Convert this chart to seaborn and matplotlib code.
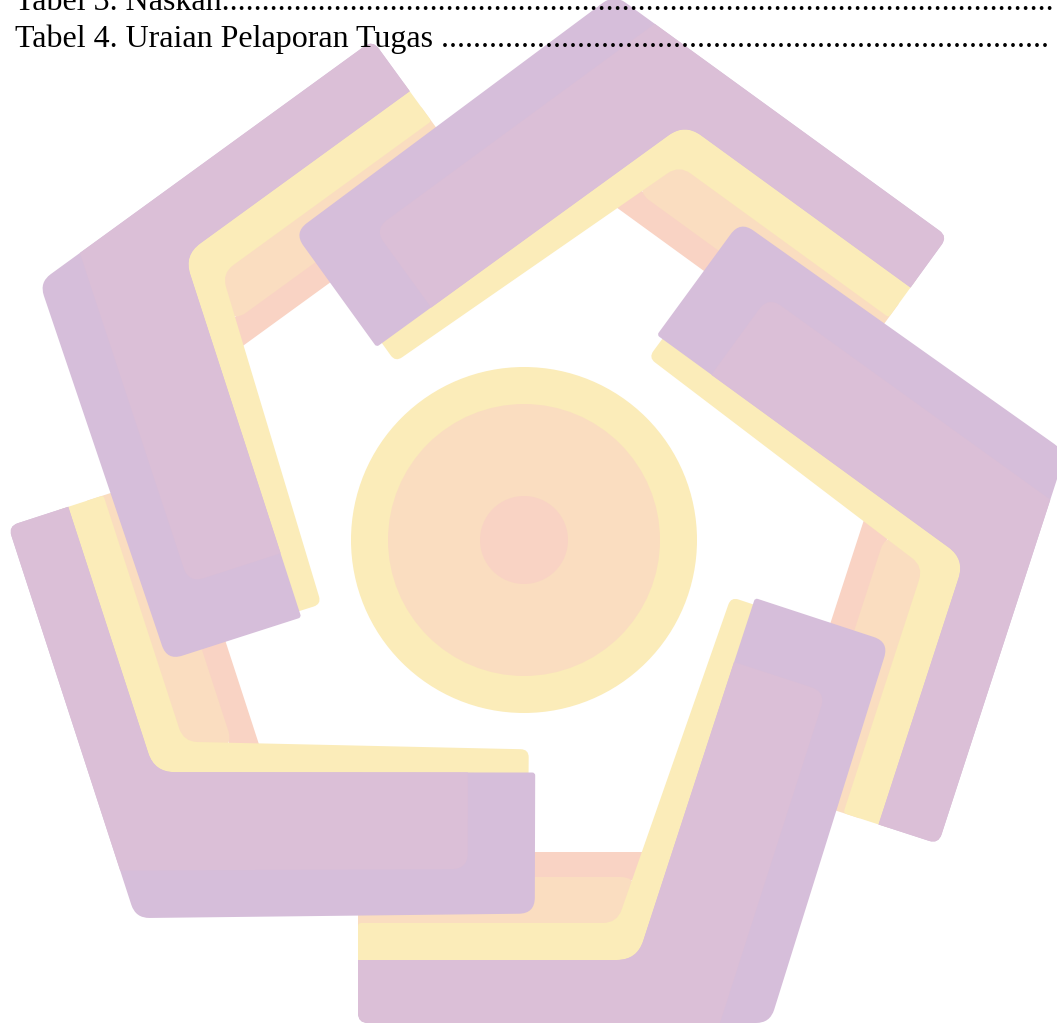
import numpy as np
import matplotlib
matplotlib.use("Agg")
import matplotlib.pyplot as plt
from matplotlib.path import Path
from matplotlib.patches import PathPatch, Circle
import seaborn as sns

# the two lines of the list of tables at the top of the page
lines = ["Tabel 3. Naskah", "Tabel 4. Uraian Pelaporan Tugas "]
line_base = [10, 47]
text_x = 15
text_size = 23

# watermark colours
layer_names = ["salmon", "peach", "yellow", "lilac", "mauve"]
layer_hex = ["#F9D3C4", "#FADDC0", "#FBECB9", "#D6BEDA", "#DBBFD7"]

# one arm of the logo (the bottom one), pixel coords, y pointing down
salmon_arm = [(358, 852), (645, 852), (652, 880), (358, 880)]
salmon_r = [0, 0, 0, 0]
peach_arm = [(358, 877), (633, 877), (642, 900), (622, 940), (358, 940)]
peach_r = [0, 12, 0, 0, 0]
yellow_arm = [(358, 923), (617, 923), (731, 597), (800, 620), (700, 970), (358, 970)]
yellow_r = [3, 14, 8, 0, 0, 0]
lilac_arm = [(358, 960), (637, 960), (755, 598), (889, 642), (770, 1023), (358, 1023)]
lilac_r = [0, 20, 3, 16, 14, 10]
mauve_arm = [(358, 960), (637, 960), (734, 662), (826, 692), (720, 1023), (358, 1023)]
mauve_r = [0, 20, 0, 16, 0, 10]

arms = [salmon_arm, peach_arm, yellow_arm, lilac_arm, mauve_arm]
arm_radii = [salmon_r, peach_r, yellow_r, lilac_r, mauve_r]

n_arms = 5
arm_center = (525, 534)

# centre disc
disc_center = (524, 540)
disc_radii = [173, 136, 44]
disc_layers = ["yellow", "peach", "salmon"]


def rounded_path(pts, radii):
    pts = np.asarray(pts, float)
    n = len(pts)
    verts, codes = [], []
    for i in range(n):
        p0, p1, p2 = pts[i - 1], pts[i], pts[(i + 1) % n]
        d1, d2 = p0 - p1, p2 - p1
        l1, l2 = np.hypot(*d1), np.hypot(*d2)
        r = min(radii[i], l1 / 2, l2 / 2)
        a = p1 + d1 / l1 * r
        b = p1 + d2 / l2 * r
        verts.append(a)
        codes.append(Path.MOVETO if i == 0 else Path.LINETO)
        verts += [p1, b]
        codes += [Path.CURVE3, Path.CURVE3]
    verts.append(verts[0])
    codes.append(Path.CLOSEPOLY)
    return np.array(verts), codes


def rotate(v, ang, c):
    t = np.deg2rad(ang)
    R = np.array([[np.cos(t), -np.sin(t)], [np.sin(t), np.cos(t)]])
    return (v - c) @ R.T + c


sns.set_theme(style="white")
pal = dict(zip(layer_names, sns.color_palette(layer_hex)))

fig = plt.figure(figsize=(10.57, 10.29), dpi=100)
ax = fig.add_axes([0, 0, 1, 1])
ax.set_xlim(0, 1057)
ax.set_ylim(1029, 0)
ax.set_aspect("equal")
ax.axis("off")

for rad, name in zip(disc_radii, disc_layers):
    ax.add_patch(Circle(disc_center, rad, facecolor=pal[name], edgecolor="none", zorder=1))

c = np.array(arm_center, float)
for li, (shape, rr) in enumerate(zip(arms, arm_radii)):
    verts, codes = rounded_path(shape, rr)
    for k in range(n_arms):
        v = rotate(verts, 72 * k, c)
        ax.add_patch(PathPatch(Path(v, codes), facecolor=pal[layer_names[li]],
                               edgecolor="none", zorder=2 + li))

# leader dots run to the right edge of the page
renderer = fig.canvas.get_renderer()
for txt, yb in zip(lines, line_base):
    t = ax.text(text_x, yb, txt, fontsize=text_size, family="Liberation Serif",
                color="black", va="baseline", ha="left", zorder=20)
    n_dots = 0
    while True:
        t.set_text(txt + "." * (n_dots + 1))
        if t.get_window_extent(renderer).x1 > 1056:
            t.set_text(txt + "." * n_dots)
            break
        n_dots += 1

fig.savefig("out.png", dpi=100, facecolor="white")
